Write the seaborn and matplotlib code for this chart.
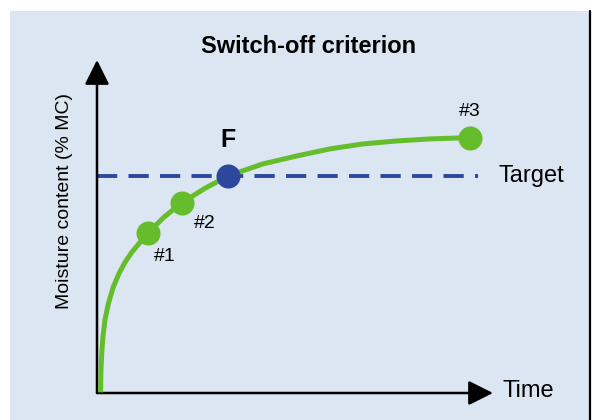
import matplotlib
matplotlib.use('Agg')
import matplotlib.pyplot as plt
from matplotlib.patches import Rectangle
import seaborn as sns
import pandas as pd

# curve (arbitrary time / moisture units)
time = [0.09, 0.10, 0.12, 0.15, 0.20, 0.29, 0.41, 0.56, 0.71, 0.88, 1.09, 1.28,
        1.69, 2.14, 2.73, 3.32, 3.53, 4.19, 5.05, 5.88, 6.72, 7.58, 8.41, 9.42]
moisture = [0.02, 0.69, 1.20, 1.68, 2.19, 2.70, 3.18, 3.60, 3.93, 4.23, 4.53, 4.80,
            5.28, 5.71, 6.15, 6.52, 6.61, 6.88, 7.12, 7.33, 7.48, 7.57, 7.63, 7.67]

sample_labels = ['#1', '#2', '#3']
sample_time = [1.28, 2.14, 9.42]
sample_moisture = [4.80, 5.71, 7.67]

switch_label = 'F'
switch_time = 3.32
target = 6.52
target_end = 9.62

title = 'Switch-off criterion'
ylabel = 'Moisture content (% MC)'
xlabel = 'Time'
target_label = 'Target'

GREEN = '#66bd2b'
BLUE = '#2c479b'
PANEL = '#dce5f2'

sns.set_style('white')
plt.rcParams['font.family'] = ['Liberation Sans', 'DejaVu Sans']
plt.rcParams['text.color'] = 'black'

fig = plt.figure(figsize=(5.95, 4.2), dpi=100)
fig.patch.set_facecolor('white')
fig.add_artist(Rectangle((10 / 595, 0), 579 / 595, 409 / 420, transform=fig.transFigure,
                         facecolor=PANEL, edgecolor='none', zorder=-5))
fig.add_artist(plt.Line2D([590 / 595, 590 / 595], [0, 409 / 420], transform=fig.transFigure,
                          color='black', lw=1.6, zorder=-4))

ax = fig.add_axes([97 / 595, 27 / 420, 396 / 595, 333 / 420])
ax.set_facecolor('none')
ax.set_xlim(0, 10)
ax.set_ylim(0, 10)
for s in ax.spines.values():
    s.set_visible(False)
ax.set_xticks([])
ax.set_yticks([])

# axes with arrow heads
arrow = dict(arrowstyle='-|>,head_length=1.5,head_width=0.75', mutation_scale=10,
             lw=1.8, color='black', shrinkA=0, shrinkB=0)
ax.annotate('', xy=(0, 1), xytext=(0, 0), xycoords='axes fraction', arrowprops=arrow)
ax.annotate('', xy=(1, 0), xytext=(0, 0), xycoords='axes fraction', arrowprops=arrow)

ax.hlines(target, 0, target_end, colors=BLUE, lw=2.8, linestyles=(0, (5.2, 2.9)), zorder=2)

curve = pd.DataFrame({'time': time, 'moisture': moisture})
sns.lineplot(data=curve, x='time', y='moisture', sort=False, estimator=None,
             color=GREEN, lw=3.6, ax=ax, zorder=3, clip_on=False)
line = ax.lines[-1]
line.set_solid_joinstyle('round')
line.set_solid_capstyle('butt')

pts = pd.DataFrame({'time': sample_time, 'moisture': sample_moisture})
sns.scatterplot(data=pts, x='time', y='moisture', color=GREEN, s=300, linewidth=0,
                ax=ax, zorder=4, clip_on=False)
sns.scatterplot(x=[switch_time], y=[target], color=BLUE, s=300, linewidth=0,
                ax=ax, zorder=5)
ax.set_xlabel('')
ax.set_ylabel('')

offsets = [(12, -16.5), (16.5, -15), (0, 18.5)]
for lab, t, m, off in zip(sample_labels, sample_time, sample_moisture, offsets):
    ax.annotate(lab, (t, m), xytext=off, textcoords='offset points',
                ha='center', va='center', fontsize=14)
ax.annotate(switch_label, (switch_time, target), xytext=(0, 26), textcoords='offset points',
            ha='center', va='center', fontsize=18, fontweight='bold')

ax.text(0.535, 1.042, title, transform=ax.transAxes, ha='center', va='center',
        fontsize=17, fontweight='bold')
ax.text(-0.081, 0.577, ylabel, transform=ax.transAxes, rotation=90,
        ha='center', va='center', fontsize=14)
ax.text(1.023, 0.005, xlabel, transform=ax.transAxes, ha='left', va='center', fontsize=17)
ax.text(10.13, target, target_label, ha='left', va='center', fontsize=17)

fig.savefig('out.png', dpi=100, facecolor='white')
